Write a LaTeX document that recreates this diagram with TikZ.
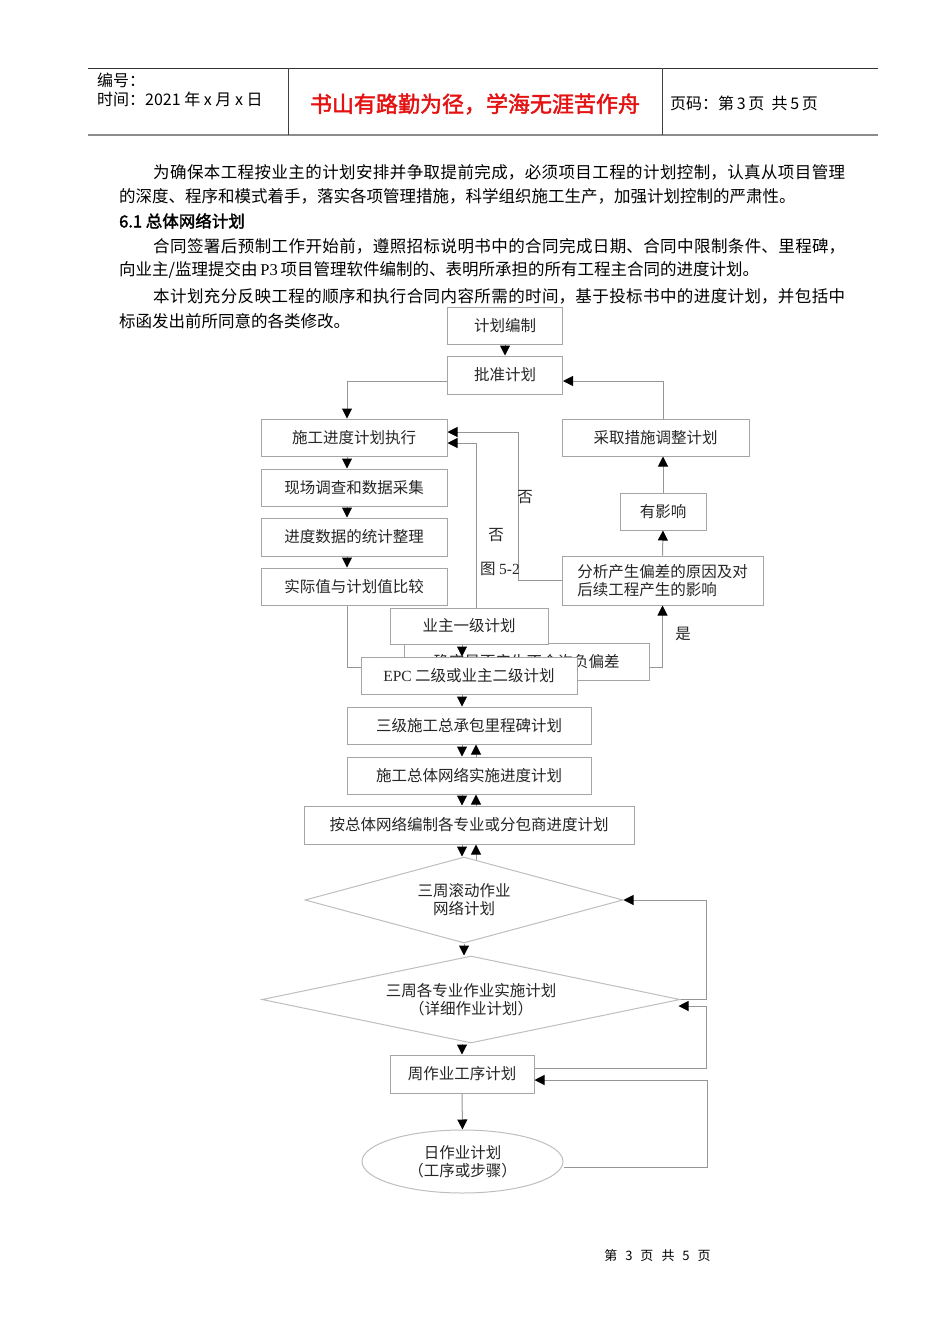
\documentclass[tikz,border=0pt]{standalone}
\usepackage{fontspec}
\setmainfont{Noto Sans CJK SC}[AutoFakeBold=2]
\newfontfamily\lserif{Liberation Serif}
\usetikzlibrary{arrows.meta,shapes.geometric}
\definecolor{titlered}{RGB}{228,18,18}
\definecolor{boxgray}{RGB}{165,165,165}
\definecolor{linegray}{RGB}{150,150,150}
\definecolor{diagray}{RGB}{190,190,190}
\XeTeXlinebreaklocale "zh"
\XeTeXlinebreakskip=0pt plus 3pt
\tikzset{
  fbox/.style={draw=boxgray, line width=1pt, fill=white, inner sep=0pt, align=center,
    font=\fontsize{15.5}{18}\selectfont, text=black!85},
  dia/.style={shape=diamond, draw=diagray, line width=1pt, fill=white, inner sep=0pt, align=center,
    font=\fontsize{15.5}{18}\selectfont, text=black!85},
  ell/.style={shape=ellipse, draw=diagray, line width=1pt, fill=white, inner sep=0pt, align=center,
    font=\fontsize{15.5}{18}\selectfont, text=black!85},
  conn/.style={draw=linegray, line width=1pt},
  arr/.style={conn, -{Triangle[length=10pt,width=10pt,color=black,fill=black]}},
  body/.style={anchor=west, inner sep=0pt, font=\fontsize{16.5}{20}\selectfont},
  hdr/.style={anchor=west, inner sep=0pt, font=\fontsize{16}{18}\selectfont},
  lbl/.style={inner sep=0pt, font=\fontsize{15.5}{18}\selectfont, text=black!85},
}
\begin{document}
\begin{tikzpicture}[x=1pt,y=-1pt]
\useasboundingbox (0,0) rectangle (950,1344);
% ---------- header ----------
\draw[line width=0.8pt, black!80] (88,68) -- (878,68);
\draw[line width=2pt, black!45] (88,135) -- (878,135);
\draw[line width=0.8pt, black!75] (288,68) -- (288,135);
\draw[line width=0.8pt, black!75] (662,68) -- (662,135);
\node[hdr] (hbh) at (97,80) {编号：};
\node[hdr] (hsj) at (97,99) {时间：2021 年 x 月 x 日};
\node[inner sep=0pt, font=\fontsize{22}{26}\selectfont\bfseries, text=titlered] (title) at (475,104) {书山有路勤为径，学海无涯苦作舟};
\node[hdr] (hym) at (670,103) {页码：第\,3\,页\ \ 共\,5\,页};
% ---------- body text ----------
\node[body] (p1) at (153,172) {\parbox{692pt}{\parfillskip=0pt\relax 为确保本工程按业主的计划安排并争取提前完成，必须项目工程的计划控制，认真从项目管理}};
\node[body] (p2) at (119,196) {的深度、程序和模式着手，落实各项管理措施，科学组织施工生产，加强计划控制的严肃性。};
\node[body, font=\fontsize{16.5}{20}\selectfont\bfseries] (p3) at (119,221) {6.1\ 总体网络计划};
\node[body] (p4) at (153,246) {\parbox{692pt}{\parfillskip=0pt\relax 合同签署后预制工作开始前，遵照招标说明书中的合同完成日期、合同中限制条件、里程碑，}};
\node[body] (p5) at (119,270) {向业主/监理提交由\,{\lserif P3}\,项目管理软件编制的、表明所承担的所有工程主合同的进度计划。};
\node[body] (p6) at (153,296) {\parbox{692pt}{\parfillskip=0pt\relax 本计划充分反映工程的顺序和执行合同内容所需的时间，基于投标书中的进度计划，并包括中}};
\node[body] (p7) at (119,321) {标函发出前所同意的各类修改。};
% ---------- flowchart : lower layer ----------
\node[fbox, minimum width=115pt, minimum height=37pt] (bianzhi) at (505,325.5) {计划编制};
\node[fbox, minimum width=115pt, minimum height=38pt] (pizhun) at (505,375) {批准计划};
\node[fbox, minimum width=186pt, minimum height=37pt] (zhixing) at (354,437.5) {施工进度计划执行};
\node[fbox, minimum width=186pt, minimum height=37pt] (xianchang) at (354,487.5) {现场调查和数据采集};
\node[fbox, minimum width=186pt, minimum height=38pt] (tongji) at (354,537) {进度数据的统计整理};
\node[fbox, minimum width=186pt, minimum height=37pt] (shiji) at (354,586.5) {实际值与计划值比较};
\node[fbox, minimum width=187pt, minimum height=37pt] (caiqu) at (655.5,437.5) {采取措施调整计划};
\node[fbox, minimum width=86pt, minimum height=37pt] (youying) at (663,511.5) {有影响};
\node[fbox, minimum width=201pt, minimum height=49pt, align=left] (fenxi) at (662.5,580.5) {分析产生偏差的原因及对\\后续工程产生的影响};
\node[fbox, minimum width=245pt, minimum height=37pt] (queding) at (526.5,661.5) {确定是否产生不合许负偏差};
% lines hidden partly behind the upper boxes
\draw[conn] ([xshift=-7pt]shiji.south) |- ([yshift=-5.5pt]queding.west);
\draw[arr] ([xshift=-50pt]queding.north) |- ([yshift=-5.5pt]zhixing.east);
\draw[arr] (fenxi.west) -- ++(-43,0) |- ([yshift=5.5pt]zhixing.east);
% ---------- flowchart : upper layer ----------
\node[fbox, minimum width=158pt, minimum height=36pt] (yezhu1) at (469,626) {业主一级计划};
\node[fbox, minimum width=216pt, minimum height=37pt] (epc) at (469,675.5) {{\lserif EPC} 二级或业主二级计划};
\node[fbox, minimum width=244pt, minimum height=37pt] (sanji) at (469,725.5) {三级施工总承包里程碑计划};
\node[fbox, minimum width=244pt, minimum height=37pt] (zongti) at (469,775.5) {施工总体网络实施进度计划};
\node[fbox, minimum width=330pt, minimum height=38pt] (anzongti) at (469,825) {按总体网络编制各专业或分包商进度计划};
\node[dia, aspect=3.7, minimum width=318pt, minimum height=86pt] (dia1) at (464,900) {三周滚动作业\\网络计划};
\node[dia, aspect=4.8, minimum width=418pt, minimum height=87pt] (dia2) at (471,999.5) {三周各专业作业实施计划\\（详细作业计划）};
\node[fbox, minimum width=144pt, minimum height=38pt] (zhou) at (462,1074) {周作业工序计划};
\node[ell, minimum width=201pt, minimum height=63pt] (ri) at (462.5,1161.5) {日作业计划\\（工序或步骤）};
% labels
\node[lbl] (lfou1) at (525,497) {否};
\node[lbl] (lfou2) at (496,535) {否};
\node[lbl] (ltu) at (500,569) {图 {\lserif 5-2}};
\node[lbl] (lshi) at (683,634) {是};
% ---------- connectors ----------
\draw[arr] (bianzhi.south) -- (pizhun.north);
\draw[arr] ([yshift=-6pt]pizhun.west) -| ([xshift=-7pt]zhixing.north);
\draw[arr] ([xshift=7.5pt]caiqu.north) |- ([yshift=-6pt]pizhun.east);
\draw[arr] ([xshift=-7pt]zhixing.south) -- ([xshift=-7pt]xianchang.north);
\draw[arr] ([xshift=-7pt]xianchang.south) -- ([xshift=-7pt]tongji.north);
\draw[arr] ([xshift=-7pt]tongji.south) -- ([xshift=-7pt]shiji.north);
\draw[arr] (fenxi.north) -- (youying.south);
\draw[arr] (youying.north) -- (youying.north |- caiqu.south);
\draw[arr] ([yshift=-5.5pt]queding.east) -| (fenxi.south);
\draw[arr] ([xshift=-7pt]yezhu1.south) -- ([xshift=-7pt]epc.north);
\draw[arr] ([xshift=-7pt]epc.south) -- ([xshift=-7pt]sanji.north);
\draw[arr] ([xshift=-7pt]sanji.south) -- ([xshift=-7pt]zongti.north);
\draw[arr] ([xshift=7pt]zongti.north) -- ([xshift=7pt]sanji.south);
\draw[arr] ([xshift=-7pt]zongti.south) -- ([xshift=-7pt]anzongti.north);
\draw[arr] ([xshift=7pt]anzongti.north) -- ([xshift=7pt]zongti.south);
\draw[arr] ([xshift=-7pt]anzongti.south) -- ([xshift=-7pt]anzongti.south |- dia1.north);
\draw[arr] ([xshift=7pt,yshift=-3pt]anzongti.south |- dia1.north) -- ([xshift=7pt]anzongti.south);
\draw[arr] (dia1.south) -- (dia1.south |- dia2.north);
\draw[arr] (zhou.north |- dia2.south) -- (zhou.north);
\draw[arr] (zhou.south) -- (ri.north);
\draw[arr] (dia2.east) -- ++(26,0) |- (dia1.east);
\draw[arr] ([yshift=6pt]zhou.east) -- ++(172,0) |- ([xshift=-2pt,yshift=-6.5pt]dia2.east);
\draw[arr] ([yshift=-5.5pt]ri.east) -- ++(144,0) |- ([yshift=-6pt]zhou.east);
% footer
\node[inner sep=0pt, font=\fontsize{13}{16}\selectfont] (footer) at (657.5,1256) {第\hspace{8pt}3\hspace{8pt}页\hspace{8pt}共\hspace{8pt}5\hspace{8pt}页};
\end{tikzpicture}
\end{document}
